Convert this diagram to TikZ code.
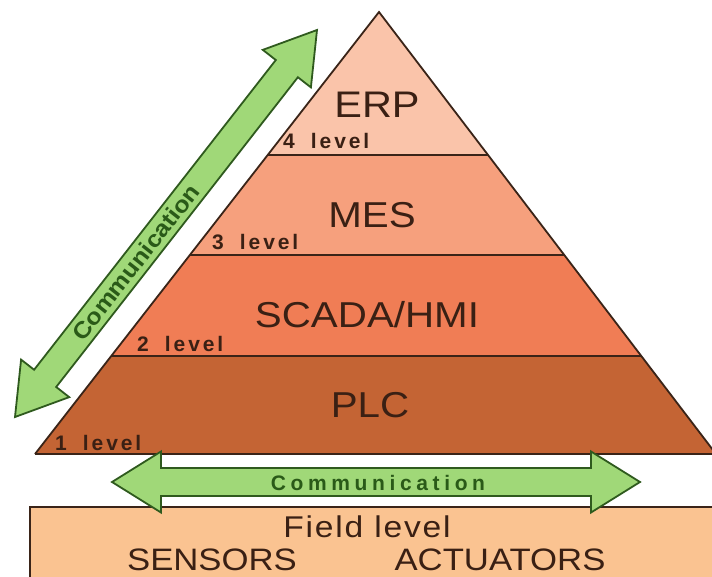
\documentclass[tikz,border=0pt]{standalone}
\usepackage{fontspec}
\setmainfont{Liberation Sans}
\newfontfamily\bigfont[FakeStretch=1.12]{Liberation Sans}
\newfontfamily\lvlfont[LetterSpace=14]{Liberation Sans}
\newfontfamily\commfont[LetterSpace=22]{Liberation Sans}
\newfontfamily\commdiagfont[FakeStretch=1.1]{Liberation Sans}
\usetikzlibrary{calc}

\definecolor{erpfill}{HTML}{FAC4AA}
\definecolor{mesfill}{HTML}{F6A07D}
\definecolor{scadafill}{HTML}{F07D55}
\definecolor{plcfill}{HTML}{C46434}
\definecolor{fieldfill}{HTML}{FAC391}
\definecolor{greenfill}{HTML}{A0D878}
\definecolor{greenline}{HTML}{2F5A1E}
\definecolor{edgecol}{HTML}{3A2418}
\definecolor{labelcol}{HTML}{3A2014}
\definecolor{commcol}{HTML}{2A5A18}

\tikzset{
  divider/.style={draw=edgecol, line width=2.4pt},
  outline/.style={draw=edgecol, line width=1.8pt, line join=miter},
  bigtxt/.style={text=labelcol, inner sep=0pt, anchor=base,
    font=\bigfont\fontsize{36}{40}\selectfont},
  fieldtxt/.style={text=labelcol, inner sep=0pt, anchor=base,
    font=\bigfont\fontsize{31}{35}\selectfont},
  lvltxt/.style={text=labelcol, inner sep=0pt, anchor=base west,
    font=\lvlfont\bfseries\fontsize{21}{24}\selectfont},
  commtxt/.style={text=commcol, inner sep=0pt,
    font=\bfseries\fontsize{21}{24}\selectfont},
  blockarrow/.style={fill=greenfill, draw=greenline, line width=1.8pt, line join=miter},
}

% double-headed block arrow between two named coordinates
\newcommand\blockarrow[2]{%
  \draw[blockarrow] (#1)
    -- ($(#1)!49pt!(#2)!30.5pt!90:(#2)$)
    -- ($(#1)!49pt!(#2)!14pt!90:(#2)$)
    -- ($(#2)!49pt!(#1)!14pt!-90:(#1)$)
    -- ($(#2)!49pt!(#1)!30.5pt!-90:(#1)$)
    -- (#2)
    -- ($(#2)!49pt!(#1)!30.5pt!90:(#1)$)
    -- ($(#2)!49pt!(#1)!14pt!90:(#1)$)
    -- ($(#1)!49pt!(#2)!14pt!-90:(#2)$)
    -- ($(#1)!49pt!(#2)!30.5pt!-90:(#2)$)
    -- cycle;}

\begin{document}
\begin{tikzpicture}[x=1pt,y=-1pt]
\useasboundingbox (0,0) rectangle (712,577);
\clip (0,0) rectangle (712,577);
\fill[white] (0,0) rectangle (712,577);

% pyramid corners and level boundaries
\coordinate (apex) at (379,12);
\coordinate (bl) at (35,454);
\coordinate (br) at (716,454);
\coordinate (l4) at ($(apex)!0.3235!(bl)$);
\coordinate (r4) at ($(apex)!0.3235!(br)$);
\coordinate (l3) at ($(apex)!0.5498!(bl)$);
\coordinate (r3) at ($(apex)!0.5498!(br)$);
\coordinate (l2) at ($(apex)!0.7783!(bl)$);
\coordinate (r2) at ($(apex)!0.7783!(br)$);

% field level box
\draw[fill=fieldfill, draw=edgecol, line width=1.8pt] (30,507) rectangle (722,590);

% pyramid layers
\fill[erpfill] (apex) -- (r4) -- (l4) -- cycle;
\fill[mesfill] (l4) -- (r4) -- (r3) -- (l3) -- cycle;
\fill[scadafill] (l3) -- (r3) -- (r2) -- (l2) -- cycle;
\fill[plcfill] (l2) -- (r2) -- (br) -- (bl) -- cycle;
\draw[divider] (l4) -- (r4);
\draw[divider] (l3) -- (r3);
\draw[divider] (l2) -- (r2);
\draw[outline] (bl) -- (apex) -- (br);
\draw[divider] (bl) -- (br);

% level names
\node[bigtxt, font=\bigfont\fontsize{37}{40}\selectfont] (erp) at (377,118) {ERP};
\node[bigtxt] (mes) at (372,228) {MES};
\node[bigtxt] (scada) at (367,327) {SCADA/HMI};
\node[bigtxt] (plc) at (370,417) {PLC};

% level numbers
\node[lvltxt] (lv4) at (283,149) {4\hspace{16pt}level};
\node[lvltxt] (lv3) at (212,250) {3\hspace{16pt}level};
\node[lvltxt] (lv2) at (137,351) {2\hspace{16pt}level};
\node[lvltxt] (lv1) at (55,450) {1\hspace{16pt}level};

% field level texts
\node[fieldtxt, font=\bigfont\addfontfeature{LetterSpace=6}\fontsize{30}{34}\selectfont] (field) at (367,537) {Field level};
\node[fieldtxt] (sensors) at (212,570) {SENSORS};
\node[fieldtxt] (actuators) at (500,570) {ACTUATORS};

% communication arrows
\coordinate (hl) at (112,482);
\coordinate (hr) at (640,482);
\blockarrow{hl}{hr}
\node[commtxt, font=\commfont\bfseries\fontsize{21}{24}\selectfont, anchor=base] (commh) at (378,490) {Communication};

\coordinate (dl) at (15,417);
\coordinate (du) at (317,30);
\blockarrow{dl}{du}
\node[commtxt, font=\commdiagfont\bfseries\fontsize{23}{26}\selectfont, rotate=51.8] (commd) at ($(dl)!0.4!(du)$) {Communication};
\end{tikzpicture}
\end{document}
